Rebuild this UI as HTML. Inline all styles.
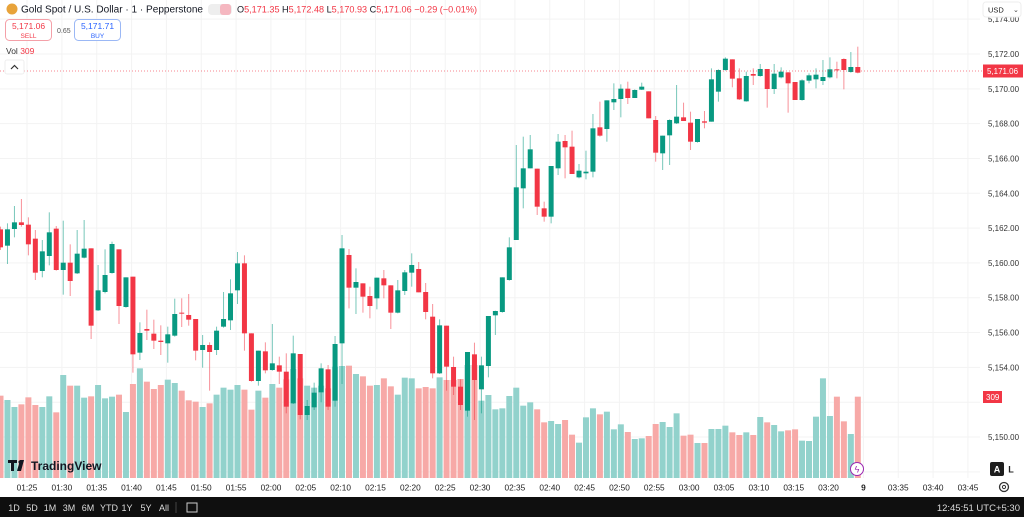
<!DOCTYPE html>
<html><head><meta charset="utf-8"><style>
body{margin:0;width:1024px;height:517px;overflow:hidden;background:#fff;font-family:"Liberation Sans",sans-serif;}
svg{position:absolute;left:0;top:0}
text{font-family:"Liberation Sans",sans-serif}
</style></head><body>
<svg id="s" width="1024" height="517" xmlns="http://www.w3.org/2000/svg"></svg>
<script>
const G='#089981',R='#f23645',VG='#92d2cc',VR='#f7a9a7';
const A=[
['r',148,202,140,210],['g',148,197,130,252],['g',127,147,78,172],['r',127,135,57,140],['r',134,193,112,226],
['r',176,278,150,300],['g',214,273,180,292],['g',157,228,97,256],['r',146,270,138,272],['g',248,270,122,344],
['r',248,303,193,348],['g',221,280,150,282],['g',206,233,120,235],['r',205,437,205,477],['g',331,391,255,393],
['g',285,336,208,340],['g',192,279,185,281],['r',208,378,208,432],['g',292,381,292,383],['r',290,523,290,578],
['g',459,518,427,540],['r',447,452,389,480],['r',461,482,419,507],['r',482,486,436,525],['g',463,490,440,548],
['g',402,467,356,470],['r',398,401,355,441],['r',405,419,342,437],['r',417,512,417,541],['g',495,510,465,563],
['r',495,516,487,632],['g',452,510,440,525],['g',417,440,336,443],['g',340,421,298,450],['g',250,331,216,372],
['r',250,460,226,512],['r',460,603,460,605],['g',512,603,512,617],['r',514,571,487,580],['g',550,570,432,572],
['r',556,575,530,612],['r',575,680,520,700],['g',520,670,467,672],['r',522,705,522,718],['g',678,705,660,720],
['g',638,682,608,690],['g',565,637,550,667],['r',568,680,555,690],['g',492,662,468,680],['g',205,490,165,612],
['r',225,323,207,385],['g',306,323,265,402],['r',310,350,310,398],['r',348,378,320,415],['g',293,355,293,388],
['r',295,316,270,355],['r',316,398,316,447],['g',331,398,300,400],['g',277,333,270,345],['g',255,278,220,320],
['r',267,337,246,337],['r',336,396,309,418],['r',410,580,372,595],['g',436,580,418,582],['r',437,560,437,632],
['r',561,620,530,645],['r',620,675,598,690],['g',516,692,516,710],['r',523,600,488,720],['g',556,628,530,700],
['g',408,558,408,592],['g',393,406,392,465],['g',292,396,292,398],['g',202,300,172,302]];
const B=[
['g',442,600,315,600],['g',385,445,290,505],['g',328,385,285,385],['r',386,500,386,525],['r',505,530,485,545],
['g',378,530,378,550],['g',305,385,282,405],['r',303,322,285,415],['r',320,402,272,402],['g',392,412,372,415],
['g',395,400,332,418],['g',265,395,222,412],['r',262,287,185,290],['g',181,267,181,305],['g',177,187,130,210],
['g',146,177,133,232],['r',146,174,125,192],['g',150,174,148,174],['g',140,149,128,150],['r',154,235,154,235],
['r',240,338,228,365],['g',287,340,287,390],['g',240,286,238,375],['g',230,250,135,252],['r',232,243,188,243],
['r',248,305,215,330],['g',237,306,237,308],['r',244,248,213,265],['g',118,245,85,245],['g',90,155,88,185],
['g',56,90,52,92],['r',58,116,58,142],['r',115,178,85,180],['g',108,184,95,185],['r',102,107,85,135],
['g',87,108,72,110],['r',87,147,87,203],['g',101,147,72,162],['g',95,112,82,115],['r',97,130,97,218],
['r',126,180,126,180],['g',121,180,118,182],['g',106,122,100,130],['g',104,118,85,145],['g',111,123,60,135],
['g',88,112,52,115],['r',88,90,65,115],['r',57,90,55,148],['g',81,96,36,98],['r',81,98,20,100]];
const C=[];A.forEach(c=>C.push([c[0],180+c[1]/3,180+c[2]/3,180+c[3]/3,180+c[4]/3]));
B.forEach(c=>C.push([c[0],40+c[1]/3,40+c[2]/3,40+c[3]/3,40+c[4]/3]));
const V=[92,105,126,118,97,120,126,94,142,30,62,62,98,94,60,100,95,89,141,57,10,50,72,60,44,54,77,106,110,126,115,89,68,74,60,74,134,77,98,57,68,43,12,40,62,68,62,70,5,3,2,27,34,62,60,40,64,89,38,40,70,66,70,37,45,45,42,0,0,107,90,133,130,93,68,122,112,133,172,168,177,165,209,233,157,130,148,140,193,178,201,222,220,213,177,171,186,145,212,209,234,234,192,192,182,202,210,202,210,156,172,180,199,196,193,227,228,155,40,153,95,169,207,95];
let h='';
for(let k=-1;k<13;k++){const y=54+k*34.82;h+=`<line x1="0" x2="980" y1="${y}" y2="${y}" stroke="#f3f3f3"/>`;}
for(let k=-1;k<28;k++){const x=27+k*34.85;h+=`<line x1="${x}" x2="${x}" y1="0" y2="478" stroke="#f3f3f3"/>`;}
const bx=i=>6.97*i+0.5;
C.forEach((c,i)=>{const t=365+V[i]/3;h+=`<rect x="${bx(i)-3}" y="${t}" width="6" height="${478-t}" fill="${c[0]=='g'?VG:VR}"/>`;});
C.forEach((c,i)=>{const x=bx(i),col=c[0]=='g'?G:R;
h+=`<line x1="${x}" x2="${x}" y1="${c[3]}" y2="${c[4]}" stroke="${col}" stroke-opacity="0.55"/>`;
h+=`<rect x="${x-2.5}" y="${c[1]}" width="5" height="${Math.max(1,c[2]-c[1])}" fill="${col}"/>`;});
h+=`<line x1="0" x2="982" y1="71" y2="71" stroke="${R}" stroke-dasharray="1 2" stroke-opacity="0.6"/>`;
for(let k=-1;k<12;k++){const p=5172-2*k,y=54+k*34.82;if(k==10)continue;h+=`<text x="988" y="${y+3}" font-size="8.3" fill="#333" textLength="31" lengthAdjust="spacingAndGlyphs">${p.toLocaleString('en-US')}.00</text>`;}
h+=`<rect x="983" y="2" width="38" height="15" rx="3" fill="#fff" stroke="#eee"/><text x="988" y="12.5" font-size="7.5" fill="#222">USD</text><text x="1013" y="12" font-size="7" fill="#444">⌄</text>`;
h+=`<rect x="983" y="64.5" width="40" height="13" fill="${R}"/><text x="987" y="74" font-size="8.3" fill="#fff" textLength="31" lengthAdjust="spacingAndGlyphs">5,171.06</text>`;
h+=`<rect x="983" y="391" width="19" height="12" fill="${R}"/><text x="986" y="400" font-size="8" fill="#fff">309</text>`;
const tl=['01:25','01:30','01:35','01:40','01:45','01:50','01:55','02:00','02:05','02:10','02:15','02:20','02:25','02:30','02:35','02:40','02:45','02:50','02:55','03:00','03:05','03:10','03:15','03:20','9','03:35','03:40','03:45'];
tl.forEach((t,k)=>{const x=27+k*34.85;h+=`<text x="${x}" y="490.5" font-size="8.3" fill="#222" text-anchor="middle" ${t=='9'?'font-weight="bold"':''}>${t}</text>`;});
h+=`<circle cx="1004" cy="487" r="4.5" fill="none" stroke="#333" stroke-width="1.3"/><circle cx="1004" cy="487" r="1.6" fill="none" stroke="#333"/>`;
h+=`<rect x="990" y="462" width="14" height="14" rx="2" fill="#1e1e1e"/><text x="997" y="472.5" font-size="9" fill="#fff" font-weight="bold" text-anchor="middle">A</text><text x="1011" y="472.5" font-size="9" fill="#222" font-weight="bold" text-anchor="middle">L</text>`;
h+=`<circle cx="857" cy="469" r="6.5" fill="#fff" stroke="#9c27b0" stroke-width="1"/><text x="857" y="472.5" font-size="9" fill="#9c27b0" text-anchor="middle">ϟ</text>`;
h+=`<rect x="0" y="497" width="1024" height="20" fill="#0f0f0f"/>`;
const bt=[['1D',14],['5D',32],['1M',50],['3M',69],['6M',88],['YTD',109],['1Y',127],['5Y',146],['All',164]];
bt.forEach(b=>h+=`<text x="${b[1]}" y="511" font-size="9" fill="#ddd" text-anchor="middle">${b[0]}</text>`);
h+=`<line x1="176" x2="176" y1="502" y2="513" stroke="#444"/><rect x="187" y="503" width="10" height="9" fill="none" stroke="#ccc"/>`;
h+=`<text x="1020" y="511" font-size="9.5" fill="#ddd" text-anchor="end">12:45:51 UTC+5:30</text>`;
h+=`<path d="M8 460h9v3h-3v8h-3v-8h-3z M20 460h4l-3 11h-4z" fill="#131722"/><circle cx="20" cy="462" r="1.6" fill="#131722"/>`;
h+=`<text x="31" y="470" font-size="12" font-weight="bold" fill="#131722">TradingView</text>`;
h+=`<circle cx="12" cy="9" r="5.5" fill="#e8a33a"/><text x="21" y="12.5" font-size="9.8" fill="#131722" textLength="182" lengthAdjust="spacingAndGlyphs">Gold Spot / U.S. Dollar · 1 · Pepperstone</text>`;
h+=`<rect x="208" y="4" width="24" height="11" rx="4" fill="#eee"/><rect x="220" y="4" width="11" height="11" rx="3" fill="#f5b7c0"/>`;
h+=`<text x="237" y="12.5" font-size="9" fill="#131722" textLength="240" lengthAdjust="spacingAndGlyphs">O<tspan fill="${R}">5,171.35</tspan> H<tspan fill="${R}">5,172.48</tspan> L<tspan fill="${R}">5,170.93</tspan> C<tspan fill="${R}">5,171.06</tspan> <tspan fill="${R}">−0.29 (−0.01%)</tspan></text>`;
h+=`<rect x="5.5" y="19.5" width="46" height="21" rx="4" fill="#fff" stroke="#f4a0a8"/><text x="28.5" y="29" font-size="8.5" fill="${R}" text-anchor="middle">5,171.06</text><text x="28.5" y="38" font-size="6.5" fill="${R}" text-anchor="middle">SELL</text>`;
h+=`<text x="57" y="33" font-size="7" fill="#555">0.65</text>`;
h+=`<rect x="74.5" y="19.5" width="46" height="21" rx="4" fill="#fff" stroke="#9bb8f5"/><text x="97.5" y="29" font-size="8.5" fill="#2962ff" text-anchor="middle">5,171.71</text><text x="97.5" y="38" font-size="6.5" fill="#2962ff" text-anchor="middle">BUY</text>`;
h+=`<text x="6" y="54" font-size="8.5" fill="#333">Vol <tspan fill="${R}">309</tspan></text>`;
h+=`<rect x="5" y="60" width="19" height="14" rx="2" fill="#fff" stroke="#eee"/><path d="M11 69 L14.5 65.5 L18 69" fill="none" stroke="#333" stroke-width="1.2"/>`;
document.getElementById('s').innerHTML=h;
</script>
</body></html>
